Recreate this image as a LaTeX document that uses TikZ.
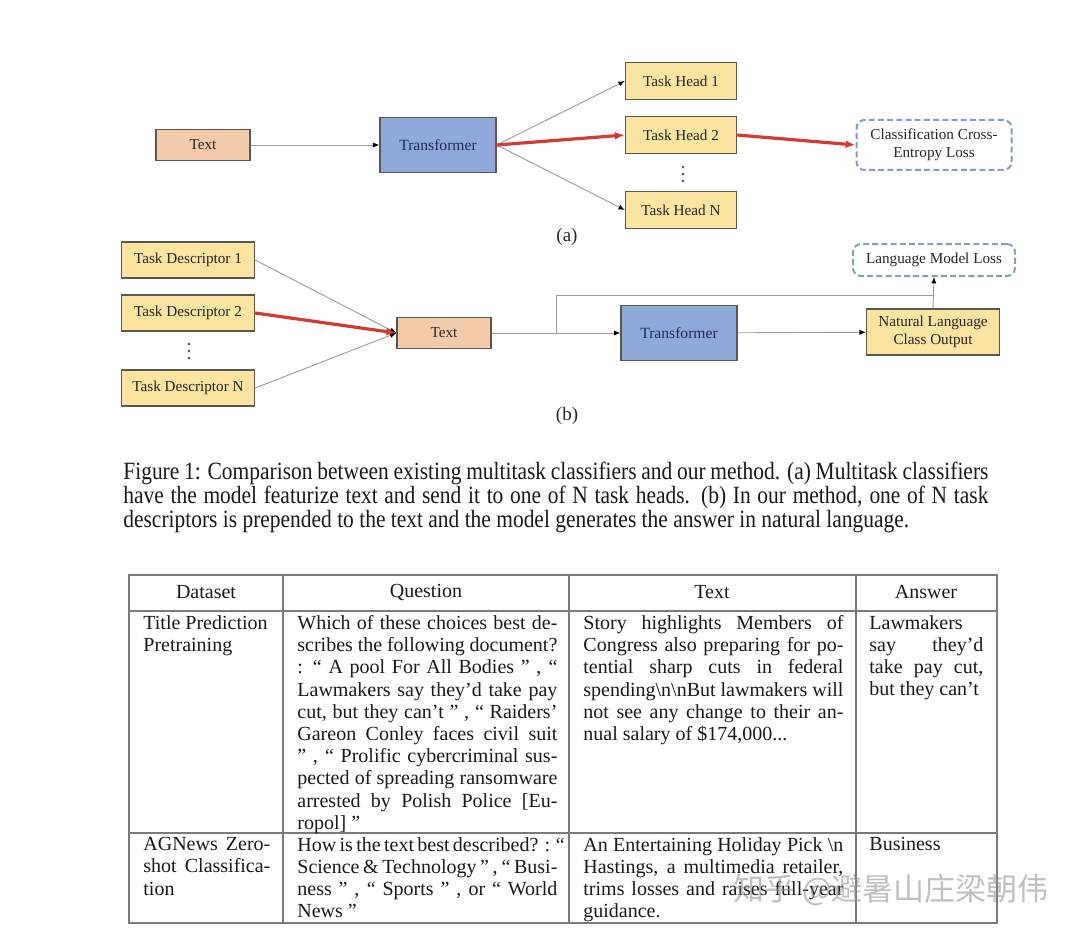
\documentclass[tikz,border=0pt]{standalone}
\usepackage{fontspec}
\setmainfont{Liberation Serif}
\newfontfamily\capfont[FakeStretch=0.865]{Liberation Serif}
\newfontfamily\cjk{Noto Sans CJK SC}
\usetikzlibrary{arrows.meta}
\definecolor{yelfill}{HTML}{FBE3A0}
\definecolor{peachfill}{HTML}{F3CBAA}
\definecolor{bluefill}{HTML}{8FA9DA}
\definecolor{boxline}{HTML}{5A5650}
\definecolor{dashblue}{HTML}{7E9EC2}
\definecolor{navytext}{HTML}{1E2B55}
\definecolor{redline}{HTML}{D23A36}
\definecolor{thinline}{HTML}{9A9A9A}
\definecolor{tabline}{HTML}{7A7A7A}
\newcommand{\capline}[1]{\makebox[432.5pt][s]{#1}}
\newcommand{\dsline}[1]{\makebox[63.5pt][s]{#1}}
\newcommand{\qline}[1]{\makebox[130pt][s]{#1}}
\newcommand{\ansline}[1]{\makebox[57pt][s]{#1}}
\begin{document}
\begin{tikzpicture}[x=0.5pt,y=-0.5pt,
  box/.style={draw=boxline, line width=0.7pt, inner sep=0pt, align=center,
    font=\fontsize{7.6}{8.8}\selectfont, text=black!85},
  yelbox/.style={box, fill=yelfill},
  peachbox/.style={box, fill=peachfill, minimum width=47pt, minimum height=15.5pt},
  tfbox/.style={box, fill=bluefill, text=navytext, minimum width=58pt, minimum height=27.5pt,
    font=\fontsize{7.8}{9}\selectfont},
  headbox/.style={yelbox, minimum width=55.5pt, minimum height=18.5pt},
  descbox/.style={yelbox, minimum width=66.5pt, minimum height=18pt},
  lossbox/.style={draw=dashblue, line width=1pt, dash pattern=on 3pt off 1.6pt, rounded corners=4pt,
    inner sep=0pt, align=center, font=\fontsize{7.6}{9}\selectfont, text=black!85},
  thin/.style={draw=thinline, line width=0.45pt, -{Latex[length=3.2pt,width=2.6pt,color=black]}},
  thinplain/.style={draw=thinline, line width=0.45pt},
  hot/.style={draw=redline, line width=1.6pt, -{Latex[length=5pt,width=4pt]}},
  dotmark/.style={circle, fill=black!70, inner sep=0pt, minimum size=1.3pt},
  sublabel/.style={font=\fontsize{9.5}{11}\selectfont, text=black!85},
  tabtext/.style={anchor=north west, inner sep=0pt, align=left,
    font=\fontsize{10}{11.1}\selectfont, text=black!90},
  tabhead/.style={inner sep=0pt, font=\fontsize{10}{11.1}\selectfont, text=black!90},
  tabrule/.style={draw=tabline, line width=0.7pt}
]
\useasboundingbox (0,0) rectangle (1080,936);
\fill[white] (0,0) rectangle (1080,936);

% ---------- (a) ----------
\node[peachbox] (ta) at (203,145) {Text};
\node[tfbox] (tfa) at (438,145) {Transformer};
\node[headbox] (h1) at (681,81) {Task Head 1};
\node[headbox] (h2) at (681,135) {Task Head 2};
\node[headbox] (hn) at (681,210) {Task Head N};
\node[dotmark] (da1) at (683,167) {};
\node[dotmark] (da2) at (683,174) {};
\node[dotmark] (da3) at (683,181) {};
\node[lossbox, minimum width=77.5pt, minimum height=25pt] (cce) at (934,145) {Classification Cross-\\Entropy Loss};
\node[sublabel] (la) at (567,237) {(a)};

\draw[thin] (ta) -- (tfa);
\draw[thin] (tfa.east) -- (h1.west);
\draw[thin] (tfa.east) -- (hn.west);
\draw[hot] (tfa.east) -- (h2.west);
\draw[hot] (h2.east) -- (cce.west);

% ---------- (b) ----------
\node[descbox] (d1) at (188,260) {Task Descriptor 1};
\node[descbox] (d2) at (188,313) {Task Descriptor 2};
\node[descbox] (dn) at (188,388) {Task Descriptor N};
\node[dotmark] (db1) at (189,344) {};
\node[dotmark] (db2) at (189,351) {};
\node[dotmark] (db3) at (189,358) {};
\node[peachbox] (tb) at (444,333) {Text};
\node[tfbox] (tfb) at (679,333) {Transformer};
\node[yelbox, minimum width=66.5pt, minimum height=23pt] (nl) at (933,332) {Natural Language\\Class Output};
\node[lossbox, minimum width=81pt, minimum height=16pt] (lml) at (934,260) {Language Model Loss};
\node[sublabel] (lb) at (567,416) {(b)};
\coordinate (br) at (556,333);

\draw[thin] (d1.east) -- (tb.west);
\draw[thin] (dn.east) -- (tb.west);
\draw[hot] (d2.east) -- (tb.west);
\draw[thin] (tb) -- (tfb);
\draw[thin] (tfb) -- (nl);
\draw[thinplain] (br) |- (nl.north |- 0,295);
\draw[thin] (nl.north) -- (lml.south);

% ---------- caption ----------
\node[anchor=north west, inner sep=0pt, align=left,
  font=\capfont\fontsize{12.4}{12}\selectfont, text=black!90] (cap) at (123,462)
  {\capline{Figure 1: Comparison between existing multitask classifiers and our method. (a) Multitask classifiers}\\
   \capline{have the model featurize text and send it to one of N task heads. (b) In our method, one of N task}\\
   descriptors is prepended to the text and the model generates the answer in natural language.};

% ---------- table ----------
\draw[tabrule] (129,575) rectangle (997,923);
\draw[tabrule] (129,611) -- (997,611);
\draw[tabrule] (129,833) -- (997,833);
\draw[tabrule] (283,575) -- (283,923);
\draw[tabrule] (569,575) -- (569,923);
\draw[tabrule] (856,575) -- (856,923);

\node[tabhead] (hd1) at (206,592) {Dataset};
\node[tabhead] (hd2) at (426,592) {Question};
\node[tabhead] (hd3) at (712,592) {Text};
\node[tabhead] (hd4) at (926,592) {Answer};

\node[tabtext] (r1c1) at (143,615) {Title Prediction\\ Pretraining};
\node[tabtext] (r1c2) at (297,615) {\qline{Which of these choices best de-}\\
\qline{scribes the following document?}\\
\qline{: “ A pool For All Bodies ” , “}\\
\qline{Lawmakers say they’d take pay}\\
\qline{cut, but they can’t ” , “ Raiders’}\\
\qline{Gareon Conley faces civil suit}\\
\qline{” , “ Prolific cybercriminal sus-}\\
\qline{pected of spreading ransomware}\\
\qline{arrested by Polish Police [Eu-}\\
ropol] ”};
\node[tabtext] (r1c3) at (583,615) {\qline{Story highlights Members of}\\
\qline{Congress also preparing for po-}\\
\qline{tential sharp cuts in federal}\\
\qline{spending\textbackslash n\textbackslash nBut lawmakers will}\\
\qline{not see any change to their an-}\\
nual salary of \$174,000...};
\node[tabtext] (r1c4) at (869,615) {Lawmakers\\
\ansline{say they’d}\\
\ansline{take pay cut,}\\
but they can’t};

\node[tabtext] (r2c1) at (143,837) {\dsline{AGNews Zero-}\\ \dsline{shot Classifica-}\\ tion};
\node[tabtext] (r2c2) at (297,837) {\qline{How is the text best described? : “}\\
\qline{Science \& Technology ” , “ Busi-}\\
\qline{ness ” , “ Sports ” , or “ World}\\
News ”};
\node[tabtext] (r2c3) at (583,837) {\qline{An Entertaining Holiday Pick \textbackslash n}\\
\qline{Hastings, a multimedia retailer,}\\
\qline{trims losses and raises full-year}\\
guidance.};
\node[tabtext] (r2c4) at (869,837) {Business};

% ---------- watermark ----------
\node[anchor=west, inner sep=0pt, font=\cjk\fontsize{15.5}{16}\selectfont, text=black!45, opacity=0.55] (wm) at (733,890) {知乎 @避暑山庄梁朝伟};
\end{tikzpicture}
\end{document}
